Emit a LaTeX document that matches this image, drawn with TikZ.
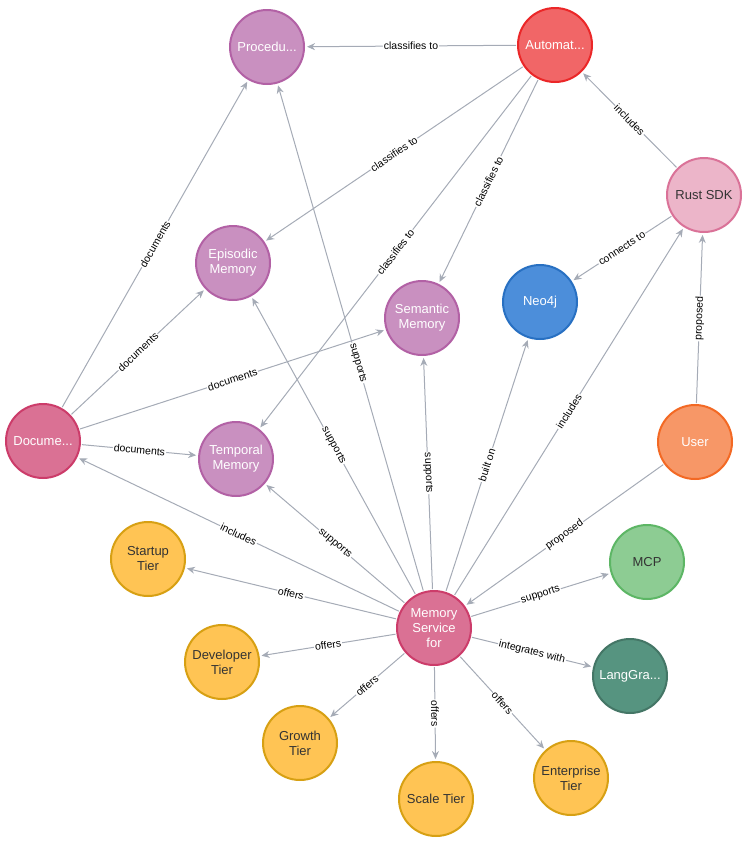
\documentclass[tikz,border=0pt]{standalone}
\usepackage{fontspec}
\setmainfont{Liberation Sans}
\usetikzlibrary{arrows.meta}
\definecolor{lilac}{HTML}{C990C0}\definecolor{lilacd}{HTML}{B261A5}
\definecolor{coral}{HTML}{F16667}\definecolor{corald}{HTML}{EB2728}
\definecolor{rose}{HTML}{ECB5C9}\definecolor{rosed}{HTML}{DA7298}
\definecolor{sky}{HTML}{4C8EDA}\definecolor{skyd}{HTML}{2870C2}
\definecolor{berry}{HTML}{DA7194}\definecolor{berryd}{HTML}{CC3C6A}
\definecolor{peach}{HTML}{F79767}\definecolor{peachd}{HTML}{F36924}
\definecolor{gold}{HTML}{FFC454}\definecolor{goldd}{HTML}{D7A013}
\definecolor{mint}{HTML}{8DCC93}\definecolor{mintd}{HTML}{5DB665}
\definecolor{pine}{HTML}{569480}\definecolor{pined}{HTML}{447666}
\definecolor{wire}{HTML}{A5ABB6}
\begin{document}
\begin{tikzpicture}
        [x=1pt, y=-1pt,
        node/.style={circle, line width=2pt, minimum size=74pt, inner sep=0pt, align=center,
          font=\fontsize{13}{15}\selectfont},
        lil/.style={node, fill=lilac, draw=lilacd, text=white},
        red/.style={node, fill=coral, draw=corald, text=white},
        pnk/.style={node, fill=rose, draw=rosed, text=black!80},
        blu/.style={node, fill=sky, draw=skyd, text=white},
        ber/.style={node, fill=berry, draw=berryd, text=white},
        org/.style={node, fill=peach, draw=peachd, text=white},
        yel/.style={node, fill=gold, draw=goldd, text=black!80},
        grn/.style={node, fill=mint, draw=mintd, text=black!80},
        dgr/.style={node, fill=pine, draw=pined, text=white},
        edge/.style={wire, line width=1pt, -{Stealth[length=8pt,width=7pt]}, shorten >=2pt, shorten <=1pt},
        lbl/.style={midway, sloped, fill=white, inner sep=1pt, text=black, font=\fontsize{10.5}{12}\selectfont}]

        \useasboundingbox (0,0) rectangle (748,841);

        \node[lil] (proc) at (267, 47) {Procedu...};
        \node[red] (auto) at (555, 45) {Automat...};
        \node[pnk] (rust) at (704, 195) {Rust SDK};
        \node[lil] (epis) at (233, 263) {Episodic\\Memory};
        \node[lil] (sema) at (422, 318) {Semantic\\Memory};
        \node[blu] (neo) at (540, 302) {Neo4j};
        \node[ber] (docu) at (43, 441) {Docume...};
        \node[lil] (temp) at (236, 459) {Temporal\\Memory};
        \node[org] (user) at (695, 442) {User};
        \node[yel] (start) at (148, 559) {Startup\\Tier};
        \node[grn] (mcp) at (647, 562) {MCP};
        \node[ber] (mem) at (434, 628) {Memory\\Service\\for};
        \node[yel] (dev) at (222, 662) {Developer\\Tier};
        \node[dgr] (lang) at (630, 676) {LangGra...};
        \node[yel] (grow) at (300, 743) {Growth\\Tier};
        \node[yel] (scale) at (436, 799) {Scale Tier};
        \node[yel] (ent) at (571, 778) {Enterprise\\Tier};

        % classification
        \draw[edge] (auto) -- (proc) node[lbl] {classifies to};
        \draw[edge] (auto) -- (epis) node[lbl] {classifies to};
        \draw[edge] (auto) -- (sema) node[lbl] {classifies to};
        \draw[edge] (auto) -- (temp) node[lbl] {classifies to};
        \draw[edge] (rust) -- (auto) node[lbl] {includes};
        \draw[edge] (rust) -- (neo) node[lbl] {connects to};
        \draw[edge] (user) -- (rust) node[lbl] {proposed};
        \draw[edge] (user) -- (mem) node[lbl] {proposed};

        % documentation
        \draw[edge] (docu) -- (proc) node[lbl] {documents};
        \draw[edge] (docu) -- (epis) node[lbl] {documents};
        \draw[edge] (docu) -- (sema) node[lbl] {documents};
        \draw[edge] (docu) -- (temp) node[lbl] {documents};

        % memory service
        \draw[edge] (mem) -- (proc) node[lbl, pos=0.45] {supports};
        \draw[edge] (mem) -- (epis) node[lbl] {supports};
        \draw[edge] (mem) -- (sema) node[lbl] {supports};
        \draw[edge] (mem) -- (temp) node[lbl] {supports};
        \draw[edge] (mem) -- (neo) node[lbl] {built on};
        \draw[edge] (mem) -- (rust) node[lbl] {includes};
        \draw[edge] (mem) -- (docu) node[lbl] {includes};
        \draw[edge] (mem) -- (mcp) node[lbl] {supports};
        \draw[edge] (mem) -- (lang) node[lbl] {integrates with};
        \draw[edge] (mem) -- (start) node[lbl] {offers};
        \draw[edge] (mem) -- (dev) node[lbl] {offers};
        \draw[edge] (mem) -- (grow) node[lbl] {offers};
        \draw[edge] (mem) -- (scale) node[lbl] {offers};
        \draw[edge] (mem) -- (ent) node[lbl] {offers};

    \end{tikzpicture}
\end{document}
